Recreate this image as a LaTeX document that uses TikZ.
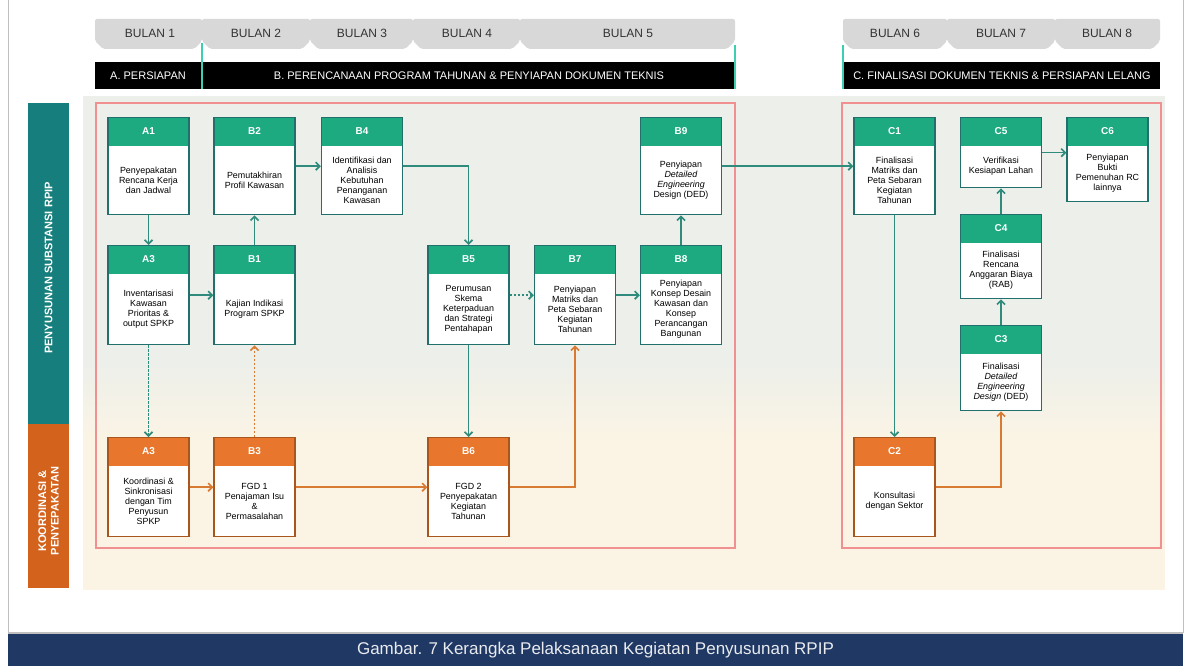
\documentclass[tikz,border=0pt]{standalone}
\usepackage{fontspec}
\setmainfont{Liberation Sans}
\usetikzlibrary{arrows.meta,calc}
\definecolor{hgreen}{HTML}{1DAA80}
\definecolor{bteal}{HTML}{22706B}
\definecolor{horange}{HTML}{E8762C}
\definecolor{borange}{HTML}{A8561E}
\definecolor{sideteal}{HTML}{167F7D}
\definecolor{sideorange}{HTML}{D3621C}
\definecolor{navy}{HTML}{1F3864}
\definecolor{tabgray}{HTML}{D8D8D8}
\definecolor{framered}{HTML}{F09090}
\definecolor{bgtop}{HTML}{ECEFEA}
\definecolor{bgbot}{HTML}{FBF4E5}
\definecolor{agreen}{HTML}{2F8C7C}
\definecolor{aorange}{HTML}{D97A33}
\definecolor{cyanline}{HTML}{3CCFB0}
\newcommand\mybox[7]{%
  \node[#7, minimum height=#4pt] (#1) at (#2,#3) {};
  \node[hl] (#1h) at ([yshift=-14pt]#1.north) {#5};
  \node[bt] (#1t) at ([yshift=-14pt]#1.center) {#6};}
\newcommand\mytab[3]{%
  \fill[tabgray, rounded corners=2pt] (#1,19) -- (#2,19) -- (#2,41) -- (#2-8,49) -- (#1+8,49) -- (#1,41) -- cycle;}
\begin{document}
\begin{tikzpicture}[x=1pt,y=-1pt,
  gbox/.style={draw=bteal, line width=1.3pt, fill=white, minimum width=81pt, inner sep=0pt, anchor=north,
    path picture={\fill[hgreen] (path picture bounding box.north west) rectangle ([yshift=-28pt]path picture bounding box.north east);}},
  obox/.style={draw=borange, line width=1.3pt, fill=white, minimum width=81pt, inner sep=0pt, anchor=north,
    path picture={\fill[horange] (path picture bounding box.north west) rectangle ([yshift=-28pt]path picture bounding box.north east);}},
  hl/.style={text=white, font=\bfseries\fontsize{10}{11}\selectfont, inner sep=0pt},
  bt/.style={align=center, font=\fontsize{8.9}{10}\selectfont, inner sep=0pt},
  tabtxt/.style={font=\fontsize{12}{13}\selectfont, text=black!80, inner sep=0pt},
  bartxt/.style={font=\fontsize{11}{12}\selectfont, text=white, inner sep=0pt},
  sidetxt/.style={font=\bfseries\fontsize{11}{12.5}\selectfont, text=white, rotate=90, align=center, inner sep=0pt},
  ga/.style={draw=agreen, line width=1.7pt, -{Straight Barb[length=4pt,width=8pt]}},
  oa/.style={draw=aorange, line width=1.7pt, -{Straight Barb[length=4pt,width=8pt]}},
  dotline/.style={dash pattern=on 2.2pt off 1.8pt}
]
\useasboundingbox (0,0) rectangle (1189,666);
\fill[white] (0,0) rectangle (1189,666);
% panel borders
\draw[black!25, line width=0.8pt] (8,0) -- (8,633);
\draw[black!25, line width=0.8pt] (1183,0) -- (1183,633);
% background bands
\fill[bgtop] (83,96) rectangle (1165,360);
\shade[top color=bgtop, bottom color=bgbot] (83,359) rectangle (1165,441);
\fill[bgbot] (83,440) rectangle (1165,590);
% month tabs
\mytab{95}{202}{}
\mytab{202}{310}{}
\mytab{310}{413}{}
\mytab{413}{520}{}
\mytab{520}{735}{}
\mytab{843}{947}{}
\mytab{947}{1055}{}
\mytab{1055}{1160}{}
\node[tabtxt] (m1) at (150,33) {BULAN 1};
\node[tabtxt] (m2) at (256,33) {BULAN 2};
\node[tabtxt] (m3) at (362,33) {BULAN 3};
\node[tabtxt] (m4) at (467,33) {BULAN 4};
\node[tabtxt] (m5) at (628,33) {BULAN 5};
\node[tabtxt] (m6) at (895,33) {BULAN 6};
\node[tabtxt] (m7) at (1001,33) {BULAN 7};
\node[tabtxt] (m8) at (1107,33) {BULAN 8};
% phase bars
\fill[black] (95,62) rectangle (735,89);
\fill[black] (843,62) rectangle (1160,89);
\draw[cyanline, line width=1.5pt] (202,43) -- (202,89);
\draw[cyanline, line width=1.5pt] (735,45) -- (735,89);
\draw[cyanline, line width=1.5pt] (843,45) -- (843,89);
\node[bartxt] (pa) at (148,75.5) {A. PERSIAPAN};
\node[bartxt] (pb) at (469,75.5) {B. PERENCANAAN PROGRAM TAHUNAN \& PENYIAPAN DOKUMEN TEKNIS};
\node[bartxt] (pc) at (1002,75.5) {C. FINALISASI DOKUMEN TEKNIS \& PERSIAPAN LELANG};
% side bars
\fill[sideteal] (28,103) rectangle (69,424);
\fill[sideorange] (28,424) rectangle (69,588);
\node[sidetxt] (s1) at (48.5,268) {PENYUSUNAN SUBSTANSI RPIP};
\node[sidetxt] (s2) at (48.5,511) {KOORDINASI \&\\PENYEPAKATAN};
% red frames
\draw[framered, line width=1.2pt] (96,103) rectangle (735,548);
\draw[framered, line width=1.2pt] (842,103) rectangle (1161,548);
% boxes row 1
\mybox{A1}{148.5}{117}{97}{A1}{Penyepakatan\\Rencana Kerja\\dan Jadwal}{gbox}
\mybox{B2}{254.5}{117}{97}{B2}{Pemutakhiran\\Profil Kawasan}{gbox}
\mybox{B4}{362}{117}{97}{B4}{Identifikasi dan\\Analisis\\Kebutuhan\\Penanganan\\Kawasan}{gbox}
\mybox{B9}{681}{117}{97}{B9}{Penyiapan\\\textit{Detailed}\\\textit{Engineering}\\Design (DED)}{gbox}
\mybox{C1}{894.5}{117}{97}{C1}{Finalisasi\\Matriks dan\\Peta Sebaran\\Kegiatan\\Tahunan}{gbox}
\mybox{C5}{1001}{117}{70}{C5}{Verifikasi\\Kesiapan Lahan}{gbox}
\mybox{C6}{1107.5}{117}{84}{C6}{Penyiapan\\Bukti\\Pemenuhan RC\\lainnya}{gbox}
% row 2
\mybox{A3g}{148.5}{245}{99}{A3}{Inventarisasi\\Kawasan\\Prioritas \&\\output SPKP}{gbox}
\mybox{B1}{254.5}{245}{99}{B1}{Kajian Indikasi\\Program SPKP}{gbox}
\mybox{B5}{468.5}{245}{99}{B5}{Perumusan\\Skema\\Keterpaduan\\dan Strategi\\Pentahapan}{gbox}
\mybox{B7}{575}{245}{99}{B7}{Penyiapan\\Matriks dan\\Peta Sebaran\\Kegiatan\\Tahunan}{gbox}
\mybox{B8}{681}{245}{99}{B8}{Penyiapan\\Konsep Desain\\Kawasan dan\\Konsep\\Perancangan\\Bangunan}{gbox}
\mybox{C4}{1001}{214}{84}{C4}{Finalisasi\\Rencana\\Anggaran Biaya\\(RAB)}{gbox}
\mybox{C3}{1001}{325}{85}{C3}{Finalisasi\\\textit{Detailed}\\\textit{Engineering}\\\textit{Design} (DED)}{gbox}
% row 3
\mybox{A3o}{148.5}{437}{99}{A3}{Koordinasi \&\\Sinkronisasi\\dengan Tim\\Penyusun\\SPKP}{obox}
\mybox{B3}{254.5}{437}{99}{B3}{FGD 1\\Penajaman Isu\\\&\\Permasalahan}{obox}
\mybox{B6}{468.5}{437}{99}{B6}{FGD 2\\Penyepakatan\\Kegiatan\\Tahunan}{obox}
\mybox{C2}{894.5}{437}{99}{C2}{Konsultasi\\dengan Sektor}{obox}
% connectors
\draw[ga] (A1) -- (A3g);
\draw[ga] (A3g) -- (B1);
\draw[ga] (B1) -- (B2);
\draw[ga] (B2) -- (B4);
\draw[ga] (B4.east) -| (B5.north);
\draw[ga, dotline] (B5) -- (B7);
\draw[ga] (B7) -- (B8);
\draw[ga] (B8) -- (B9);
\draw[ga] (B9) -- (C1);
\draw[ga] (C1) -- (C2);
\draw[ga] (C3) -- (C4);
\draw[ga] (C4) -- (C5);
\draw[ga] (C5.east) -- (C5.east -| C6.west);
\draw[ga, dotline] (A3g) -- (A3o);
\draw[oa, dotline] (B3) -- (B1);
\draw[ga] (B5) -- (B6);
\draw[oa] (A3o) -- (B3);
\draw[oa] (B3) -- (B6);
\draw[oa] (B6.east) -| (B7.south);
\draw[oa] (C2.east) -| (C3.south);
% caption
\fill[black!25] (8,632) rectangle (1183,633.5);
\fill[navy] (8,633.5) rectangle (1183,666);
\node[text=white!90!navy, font=\fontsize{17}{19}\selectfont, inner sep=0pt] (cap) at (595.5,650) {Gambar. 7 Kerangka Pelaksanaan Kegiatan Penyusunan RPIP};
\end{tikzpicture}
\end{document}
